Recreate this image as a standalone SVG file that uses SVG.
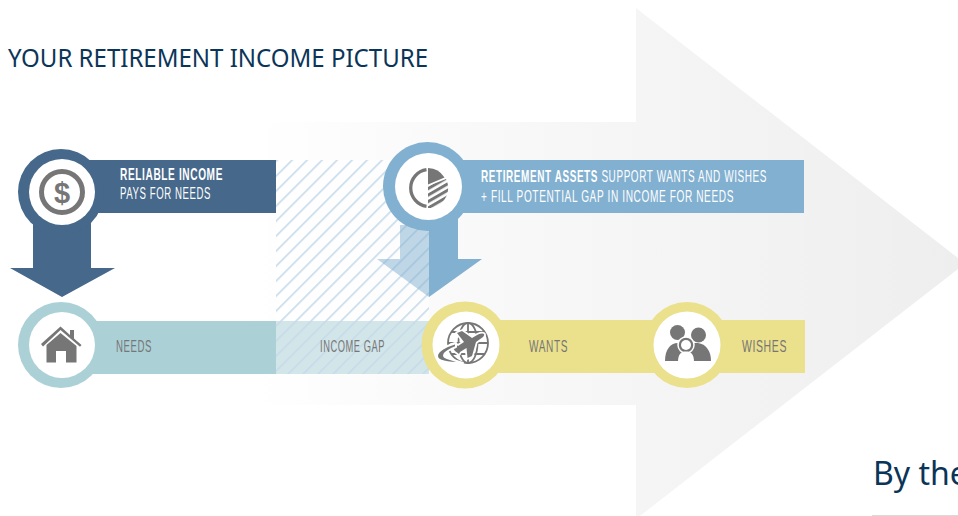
<svg xmlns="http://www.w3.org/2000/svg" width="958" height="516" viewBox="0 0 958 516">
<style>
text{font-family:"Liberation Sans",Arial,sans-serif}
.h{font-family:"Noto Sans","Open Sans",sans-serif;fill:#0b3558}
.w{fill:#fff;font-size:16.5px;letter-spacing:1px}
.b{font-weight:700}
.g{fill:#767676;font-size:16.5px;letter-spacing:1px}
.i{fill:#767676}
.wh{fill:#fff}
</style>
<defs>
<linearGradient id="bg" gradientUnits="userSpaceOnUse" x1="250" y1="0" x2="958" y2="0">
<stop offset="0" stop-color="#fbfbfb" stop-opacity="0"/>
<stop offset="0.2" stop-color="#fbfbfb"/>
<stop offset="0.5" stop-color="#f6f6f6"/>
<stop offset="1" stop-color="#eeeeee"/>
</linearGradient>
<pattern id="hatch" width="10.6" height="10.6" patternUnits="userSpaceOnUse" patternTransform="translate(276 160) rotate(45)">
<rect x="0" y="0" width="1.6" height="10.6" fill="#c6dbeb"/>
</pattern>
<pattern id="pieh" width="5.600" height="5.600" patternUnits="userSpaceOnUse" patternTransform="translate(428 187) rotate(-30)">
<rect width="5.600" height="3" fill="#767676"/>
</pattern>
</defs>

<path id="bg-arrow" d="M250 122H636V8L958 258V269L636 519V405H250Z" fill="url(#bg)"/>

<text class="h" x="8" y="67" font-size="25" textLength="420" lengthAdjust="spacingAndGlyphs">YOUR RETIREMENT INCOME PICTURE</text>

<g id="income-gap">
<rect x="276" y="160" width="153" height="214" fill="#fff" opacity="0.5"/>
<rect x="276" y="321" width="153" height="53" fill="#d2e5e8"/>
<rect x="276" y="160" width="153" height="214" fill="url(#hatch)"/>
<text class="g" x="320" y="351.500" textLength="65" lengthAdjust="spacingAndGlyphs">INCOME GAP</text>
</g>

<g id="reliable-income">
<path d="M33 215V268H10L62 297L115 268H91V215Z" fill="#46688a"/>
<rect x="61" y="160" width="215" height="53" fill="#46688a"/>
<circle cx="61" cy="192" r="43" fill="#46688a"/>
<circle cx="62" cy="192" r="33" class="wh"/>
<circle cx="62" cy="192" r="20.500" fill="none" stroke="#767676" stroke-width="5"/>
<text x="62" y="203" text-anchor="middle" font-size="29" font-weight="700" fill="#767676">$</text>
<text class="w b" x="120" y="180" textLength="103" lengthAdjust="spacingAndGlyphs">RELIABLE INCOME</text>
<text class="w" x="120" y="199" textLength="91" lengthAdjust="spacingAndGlyphs">PAYS FOR NEEDS</text>
</g>

<g id="needs">
<rect x="61" y="321" width="215" height="53" fill="#abd1d6"/>
<circle cx="61" cy="345" r="43" fill="#abd1d6"/>
<circle cx="62" cy="345" r="33" class="wh"/>
<path class="i" d="M41 344L60.500 326.500L70 335V330H74V338.500L81.500 345L80 346.800L60.500 330L43 346.500Z"/>
<path class="i" d="M46.500 345L60.500 333L76.500 346V362.500H66V351H56V362.500H46.500Z"/>
<text class="g" x="116" y="351.500" textLength="36" lengthAdjust="spacingAndGlyphs">NEEDS</text>
</g>

<g id="retirement-assets">
<path d="M429 213H458V259H482L429 297Z" fill="#82b0d0"/>
<path d="M400 225V259H377L429 297V225Z" fill="#82b0d0" opacity="0.5"/>
<rect x="428" y="160" width="376" height="53" fill="#82b0d0"/>
<circle cx="427.500" cy="186.500" r="44.500" fill="#82b0d0"/>
<circle cx="428.500" cy="186.500" r="33.500" class="wh"/>
<path d="M426.500 169.700A18.500 18.500 0 0 0 426.500 206.300" fill="none" stroke="#767676" stroke-width="3.300"/>
<path class="i" d="M428 168A20 20 0 0 1 444.500 177.500L428 184.500Z"/>
<path d="M428 186L446 179A20 20 0 0 1 428 208Z" fill="url(#pieh)"/>
<text class="w" x="481" y="182" textLength="286" lengthAdjust="spacingAndGlyphs"><tspan class="b">RETIREMENT ASSETS</tspan> SUPPORT WANTS AND WISHES</text>
<text class="w" x="481" y="202" textLength="253" lengthAdjust="spacingAndGlyphs">+ FILL POTENTIAL GAP IN INCOME FOR NEEDS</text>
</g>

<g id="wants">
<rect x="465" y="320" width="222" height="53" fill="#ebe08b"/>
<circle cx="465" cy="345" r="43.500" fill="#ebe08b"/>
<circle cx="466" cy="345" r="33.500" class="wh"/>
<g fill="none" stroke="#767676" stroke-width="1.800">
<circle cx="468" cy="343" r="20"/>
<ellipse cx="468" cy="343" rx="9.500" ry="20"/>
<path d="M468 323V363M448 343H488M451.500 332H484.500M451.500 354H484.500"/>
</g>
<path class="i" stroke="#fff" stroke-width="3.500" stroke-linejoin="round" d="M455 351L451 345L455 344L458 346L464 342L457 333L462 331L472 338L478 334.500C483 332.500 486 334 483 337L476 342L472 356L467.500 358L466.500 348L460 352L459 354Z"/>
<path class="i" d="M455 351L451 345L455 344L458 346L464 342L457 333L462 331L472 338L478 334.500C483 332.500 486 334 483 337L476 342L472 356L467.500 358L466.500 348L460 352L459 354Z"/>
<path class="i" stroke="#fff" stroke-width="2" stroke-linejoin="round" d="M456 343C446 346 437 351 437 356C437 361 447 363 463 363L447 358C443 357 443 354 447 351.500C450 349.500 453 348 456 347Z"/>
<text class="g" x="529" y="351.500" textLength="39" lengthAdjust="spacingAndGlyphs">WANTS</text>
</g>

<g id="wishes">
<rect x="687" y="320" width="118" height="53" fill="#ebe08b"/>
<circle cx="687" cy="345" r="43" fill="#ebe08b"/>
<circle cx="687" cy="345" r="33.500" class="wh"/>
<circle class="i" cx="677.500" cy="332.500" r="7.500"/>
<circle class="i" cx="698.500" cy="335" r="7.500"/>
<path class="i" d="M665 361C665 350 670 343 678 343H698C706 344 711 351 711 361Z"/>
<circle cx="686" cy="345" r="8" class="i" stroke="#fff" stroke-width="1.500"/>
<circle cx="686" cy="345" r="5" class="wh"/>
<path class="wh" d="M678 362C678 354 681 351.500 686 351.500C691 351.500 694 354 694 362Z"/>
<text class="g" x="742" y="351.500" textLength="45" lengthAdjust="spacingAndGlyphs">WISHES</text>
</g>

<text class="h" x="873" y="485" font-size="32">By the</text>
<rect x="872" y="515" width="86" height="1" fill="#d9d9d9"/>
</svg>
